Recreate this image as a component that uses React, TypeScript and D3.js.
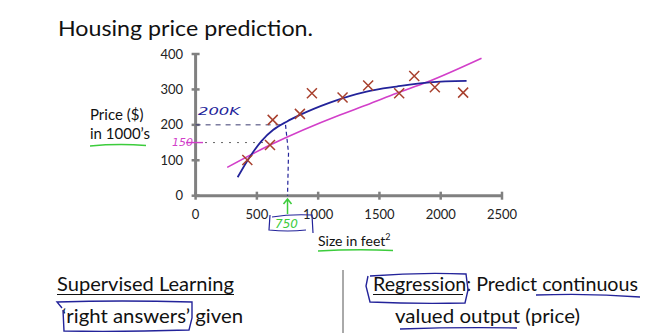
import React from "react";
import * as d3 from "d3";

const xTicks = [0, 500, 1000, 1500, 2000, 2500];
const yTicks = [0, 100, 200, 300, 400];
const houseSize = [422, 607, 629, 851, 949, 1199, 1408, 1661, 1784, 1952, 2183];
const housePrice = [101, 143, 214, 231, 289, 277, 311, 289, 338, 306, 291];
const straightFitX = [258, 607, 1177, 1395, 1640, 1884, 2333];
const straightFitY = [80, 143, 228, 256, 289, 320, 388];
const curveFitX = [343, 430, 539, 634, 743, 851, 1096, 1395, 1640, 1911, 2211];
const curveFitY = [52, 103, 155, 186, 209, 228, 263, 294, 308, 320, 324];
const querySize = 750;
const curvePrice = 200;
const straightPrice = 150;

const FONT = "Lato, 'Open Sans', sans-serif";
const HAND_BLUE = "#23239a";
const PINK = "#d23fc9";
const GREEN = "#3ccc3c";

export default function App() {
  const x = d3.scaleLinear().domain([0, 2500]).range([195.6, 502]);
  const y = d3.scaleLinear().domain([0, 400]).range([195.7, 54]);
  const line = d3
    .line<[number, number]>()
    .x((d) => x(d[0]))
    .y((d) => y(d[1]))
    .curve(d3.curveMonotoneX);
  const straight = straightFitX.map((v, i) => [v, straightFitY[i]] as [number, number]);
  const curved = curveFitX.map((v, i) => [v, curveFitY[i]] as [number, number]);
  const axisColor = "#808080";
  const qx = x(querySize);

  return (
    <svg
      width={660}
      height={333}
      style={{ position: "absolute", left: 0, top: 0, background: "#fff" }}
      fontFamily={FONT}
    >
      <rect width={660} height={333} fill="#fff" />
      <text x={58} y={36} fontSize={21} fill="#111" textLength={255} lengthAdjust="spacingAndGlyphs">
        Housing price prediction.
      </text>

      {/* axes */}
      <line x1={x(0)} x2={x(0)} y1={y(0)} y2={y(400)} stroke={axisColor} strokeWidth={3} />
      <line x1={x(0)} x2={x(2500)} y1={y(0)} y2={y(0)} stroke={axisColor} strokeWidth={3} />
      {yTicks.map((t) => (
        <g key={"y" + t}>
          <line x1={x(0) - 4} x2={x(0) + 4} y1={y(t)} y2={y(t)} stroke={axisColor} strokeWidth={2.5} />
          <text x={183} y={y(t) + 4.5} fontSize={13} fill="#222" textAnchor="end">
            {t}
          </text>
        </g>
      ))}
      {xTicks.map((t) => (
        <g key={"x" + t}>
          <line x1={x(t)} x2={x(t)} y1={y(0) - 4} y2={y(0) + 4} stroke={axisColor} strokeWidth={2.5} />
          <text x={x(t)} y={219} fontSize={13} fill="#222" textAnchor="middle">
            {t}
          </text>
        </g>
      ))}

      {/* axis titles */}
      <text x={90} y={120} fontSize={15} fill="#111">Price ($)</text>
      <text x={90} y={139} fontSize={15} fill="#111">in 1000’s</text>
      <path d="M90,146 Q118,143.5 146,145.5" fill="none" stroke={GREEN} strokeWidth={1.5} />
      <text x={318} y={246} fontSize={14} fill="#111">
        Size in feet<tspan fontSize={9} dy={-6}>2</tspan>
      </text>
      <path d="M318,251 Q355,249 393,250.5" fill="none" stroke={GREEN} strokeWidth={1.5} />

      {/* annotations dashed guides */}
      <line x1={x(0)} x2={qx - 2} y1={y(curvePrice)} y2={y(curvePrice)} stroke="#3a3a70" strokeWidth={1} strokeDasharray="5,5" />
      <path d={`M${qx - 2},${y(curvePrice)} L${qx + 1},${y(120)} L${qx},${y(0)}`} fill="none" stroke={HAND_BLUE} strokeWidth={1.2} strokeDasharray="4,3" />
      <line x1={186} x2={203} y1={y(straightPrice)} y2={y(straightPrice)} stroke={PINK} strokeWidth={1.4} />
      <line x1={205} x2={x(600)} y1={y(straightPrice)} y2={y(straightPrice)} stroke="#666" strokeWidth={1} strokeDasharray="2,6" />
      <text x={172} y={146} fontSize={11} fill={PINK} fontFamily="'DejaVu Sans', sans-serif" fontStyle="italic">
        150
      </text>
      <text x={198} y={115} fontSize={11} fill={HAND_BLUE} fontFamily="'DejaVu Sans', sans-serif" fontStyle="italic" textLength={42} lengthAdjust="spacingAndGlyphs">
        200K
      </text>

      {/* fitted lines */}
      <path d={line(straight) || ""} fill="none" stroke={PINK} strokeWidth={1.6} />
      <path d={line(curved) || ""} fill="none" stroke={HAND_BLUE} strokeWidth={1.8} />

      {/* data crosses */}
      {houseSize.map((s, i) => {
        const cx = x(s);
        const cy = y(housePrice[i]);
        const r = 5;
        return (
          <path
            key={"c" + i}
            d={`M${cx - r},${cy - r}L${cx + r},${cy + r}M${cx + r},${cy - r}L${cx - r},${cy + r}`}
            stroke="#a8402e"
            strokeWidth={1.5}
            fill="none"
          />
        );
      })}

      {/* 750 annotation */}
      <path d={`M${qx},${214} L${qx},${200} M${qx - 4},${204} L${qx},${199} L${qx + 4},${204}`} fill="none" stroke={GREEN} strokeWidth={1.5} />
      <path d="M272,217 Q290,214 312,215 L313,233 M270,215 L269,230 Q288,232 306,230" fill="none" stroke={HAND_BLUE} strokeWidth={1.2} />
      <text x={275} y={228} fontSize={12} fill={GREEN} fontFamily="'DejaVu Sans', sans-serif" fontStyle="italic">
        750
      </text>

      {/* bottom texts */}
      <text x={57} y={291} fontSize={19} fill="#111" textLength={177} lengthAdjust="spacingAndGlyphs">
        Supervised Learning
      </text>
      <line x1={57} x2={234} y1={294.5} y2={294.5} stroke="#111" strokeWidth={1} />
      <text x={62} y={323} fontSize={19} fill="#111" textLength={181} lengthAdjust="spacingAndGlyphs">
        ‘right answers’ given
      </text>
      <path d="M62,308 L57,302 Q120,300 192,302 L192,318 L189,330 Q120,332 64,331 L63,310" fill="none" stroke={HAND_BLUE} strokeWidth={1.4} />

      <line x1={343} x2={343} y1={270} y2={333} stroke="#555" strokeWidth={1} />
      <text x={373} y={291} fontSize={19} fill="#111" textLength={265} lengthAdjust="spacingAndGlyphs">
        Regression: Predict continuous
      </text>
      <line x1={373} x2={463} y1={294.5} y2={294.5} stroke="#111" strokeWidth={1} />
      <path d="M370,276 Q420,272 466,274 L468,290 L465,303 Q415,304 370,302 L366,286 L368,276" fill="none" stroke={HAND_BLUE} strokeWidth={1.4} />
      <path d="M536,295 Q590,293 640,297" fill="none" stroke={HAND_BLUE} strokeWidth={1.3} />
      <text x={395} y={323} fontSize={19} fill="#111" textLength={185} lengthAdjust="spacingAndGlyphs">
        valued output (price)
      </text>
      <path d="M400,329 Q460,327 517,328" fill="none" stroke={HAND_BLUE} strokeWidth={1.3} />
    </svg>
  );
}
